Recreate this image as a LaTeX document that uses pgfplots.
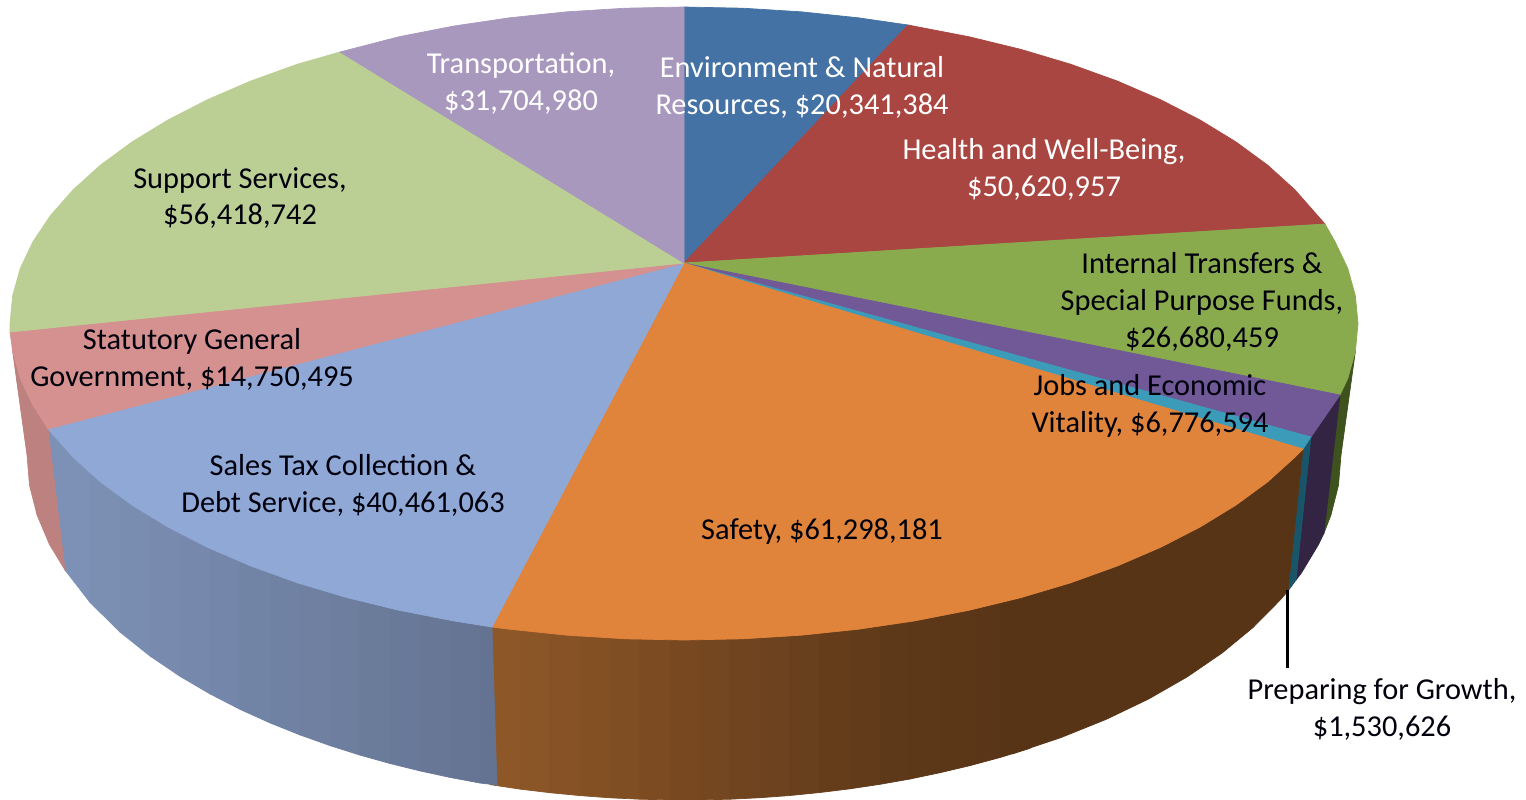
\documentclass[border=0pt]{standalone}
\usepackage{pgfplots}
\usepackage{fontspec}
\setmainfont{Carlito}
\pgfplotsset{compat=1.18}
\tikzset{
    lab/.style={font=\fontsize{8.64}{10.5}\selectfont,align=center,inner sep=0pt,text=black!95!blue},
    wlab/.style={lab,text=white},
}

% one slice or side piece, colour in RGB, outline in pixels
\newcommand{\piece}[4]{\addplot[fill={rgb,255:red,#1;green,#2;blue,#3},draw={rgb,255:red,#1;green,#2;blue,#3},line width=0.2pt,mark=none,forget plot] coordinates {#4};}

\begin{document}
\begin{tikzpicture}
\path[use as bounding box] (0,0) rectangle (15.26,7.99);
\begin{axis}[
    anchor=south west,
    at={(0,0)},
    scale only axis,
    width=15.26cm,
    height=7.99cm,
    xmin=0, xmax=1526,
    ymin=0, ymax=799,
    y dir=reverse,
    hide axis,
]
% --- sides ---
% Internal Transfers
\piece{62}{82}{30}{(1355.4,351.1)(1347.8,378.5)(1340,395)(1324,533)(1331,514.9)(1338.5,485.1)(1341,455)(1355.4,351.1)}
% Jobs
\piece{50}{36}{66}{(1340,395)(1311,437)(1296,580)(1301.4,573)(1318.6,544.3)(1324,533)(1340,395)}
% Preparing
\piece{25}{85}{105}{(1311,437)(1303,449)(1288,591)(1296,580)(1311,437)}
% Safety, dark part on the right
\piece{88}{52}{22}{(1303,449)(1294.8,457.3)(1267.7,481.8)(1236.1,505)(1200.3,526.9)(1160.6,547.3)(1117.2,566)(1070.6,582.8)(1021,597.6)(1012.5,753.8)(1060.9,737.6)(1106.3,719.3)(1148.6,699)(1187.3,676.8)(1222.2,652.9)(1253,627.5)(1279.4,600.8)(1288,591)(1303,449)}
% Safety, vertical stripes; their tops are hidden under the top face
\piece{142}{87}{40}{(490,590)(520,590)(520,789.1)(490,784.6)(490,590)}
\piece{138}{85}{39}{(520,590)(550,590)(550,792.7)(520,789.1)(520,590)}
\piece{135}{82}{38}{(550,590)(580,590)(580,795.6)(550,792.7)(550,590)}
\piece{131}{80}{36}{(580,590)(610,590)(610,797.8)(580,795.6)(580,590)}
\piece{127}{78}{35}{(610,590)(640,590)(640,799.2)(610,797.8)(610,590)}
\piece{124}{75}{34}{(640,590)(670,590)(670,799.9)(640,799.2)(640,590)}
\piece{120}{73}{33}{(670,590)(700,590)(700,799.9)(670,799.9)(670,590)}
\piece{116}{71}{32}{(700,590)(730,590)(730,799.2)(700,799.9)(700,590)}
\piece{112}{68}{31}{(730,590)(760,590)(760,797.7)(730,799.2)(730,590)}
\piece{109}{66}{30}{(760,590)(790,590)(790,795.5)(760,797.7)(760,590)}
\piece{105}{64}{29}{(790,590)(820,590)(820,792.5)(790,795.5)(790,590)}
\piece{101}{61}{27}{(820,590)(850,590)(850,788.8)(820,792.5)(820,590)}
\piece{98}{59}{26}{(850,590)(880,590)(880,784.3)(850,788.8)(850,590)}
\piece{94}{57}{25}{(880,590)(910,590)(910,779)(880,784.3)(880,590)}
\piece{92}{55}{24}{(910,590)(940,590)(940,772.7)(910,779)(910,590)}
\piece{91}{54}{23}{(940,590)(970,590)(970,765.6)(940,772.7)(940,590)}
\piece{90}{53}{23}{(970,590)(1000,590)(1000,757.5)(970,765.6)(970,590)}
\piece{88}{52}{22}{(1000,590)(1030,590)(1030,748.3)(1000,757.5)(1000,590)}
% Sales Tax, vertical stripes
\piece{125}{145}{182}{(46,425)(90,425)(90,602.4)(65,570)(50,480)(46,425)}
\piece{123}{143}{179}{(90,435)(120,435)(120,632)(90,602.4)(90,435)}
\piece{121}{141}{177}{(120,435)(150,435)(150,656)(120,632)(120,435)}
\piece{120}{139}{174}{(150,435)(180,435)(180,676.3)(150,656)(150,435)}
\piece{118}{136}{171}{(180,435)(210,435)(210,693.9)(180,676.3)(180,435)}
\piece{116}{134}{169}{(210,435)(240,435)(240,709.3)(210,693.9)(210,435)}
\piece{114}{132}{166}{(240,435)(270,435)(270,722.9)(240,709.3)(240,435)}
\piece{112}{130}{163}{(270,435)(300,435)(300,734.9)(270,722.9)(270,435)}
\piece{111}{128}{161}{(300,435)(330,435)(330,745.6)(300,734.9)(300,435)}
\piece{109}{126}{158}{(330,435)(360,435)(360,755.1)(330,745.6)(330,435)}
\piece{107}{124}{155}{(360,435)(390,435)(390,763.5)(360,755.1)(360,435)}
\piece{105}{121}{153}{(390,435)(420,435)(420,770.9)(390,763.5)(390,435)}
\piece{104}{119}{150}{(420,435)(450,435)(450,777.4)(420,770.9)(420,435)}
\piece{102}{117}{147}{(450,435)(480,435)(480,783)(450,777.4)(450,435)}
\piece{100}{115}{145}{(480,435)(492,435)(492,627)(497,785)(480,783)(480,435)}
% Statutory
\piece{189}{129}{127}{(12.6,351.1)(20.2,378.5)(33,405.4)(48,429)(65,570)(49.4,544.3)(37,514.9)(29.5,485.1)(27,455)(12.6,351.1)}

% --- top ---
% Environment
\piece{68}{114}{165}{(684,263)(684,7)(742.8,8.2)(801,11.8)(858.4,17.8)(908,25)(684,263)}
% Health
\piece{170}{70}{65}{(684,263)(908,25)(968.8,36.7)(1021,49.4)(1070.6,64.2)(1117.2,81)(1160.6,99.7)(1200.3,120.1)(1236.1,142)(1267.7,165.2)(1294.8,189.7)(1325,224)(684,263)}
% Internal Transfers
\piece{138}{170}{78}{(684,263)(1325,224)(1335,241.6)(1347.8,268.5)(1355.4,295.9)(1358,323.5)(1355.4,351.1)(1347.8,378.5)(1340,395)(684,263)}
% Jobs
\piece{113}{88}{150}{(684,263)(1340,395)(1311,437)(684,263)}
% Preparing
\piece{60}{155}{185}{(684,263)(1311,437)(1303,449)(684,263)}
% Safety
\piece{224}{132}{60}{(684,263)(1303,449)(1294.8,457.3)(1267.7,481.8)(1236.1,505)(1200.3,526.9)(1160.6,547.3)(1117.2,566)(1070.6,582.8)(1021,597.6)(968.8,610.3)(914.5,620.9)(858.4,629.2)(801,635.2)(742.8,638.8)(684,640)(625.2,638.8)(567,635.2)(509.6,629.2)(492,627)(684,263)}
% Sales Tax
\piece{143}{168}{213}{(684,263)(492,627)(453.5,620.9)(399.2,610.3)(347,597.6)(297.4,582.8)(250.8,566)(207.4,547.3)(167.7,526.9)(131.9,505)(100.3,481.8)(73.2,457.3)(48,429)(684,263)}
% Statutory
\piece{213}{145}{143}{(684,263)(48,429)(33,405.4)(20.2,378.5)(12.6,351.1)(10,332)(684,263)}
% Support
\piece{187}{207}{148}{(684,263)(10,332)(10,323.5)(12.6,295.9)(20.2,268.5)(33,241.6)(50.6,215.3)(73.2,189.7)(100.3,165.2)(131.9,142)(167.7,120.1)(207.4,99.7)(250.8,81)(297.4,64.2)(340,52)(684,263)}
% Transportation
\piece{168}{152}{190}{(684,263)(340,52)(399.2,36.7)(453.5,26.1)(509.6,17.8)(567,11.8)(625.2,8.2)(684,7)(684,263)}

% leader line of the smallest slice
\addplot[black,line width=0.85pt,mark=none,forget plot] coordinates {(1287,590)(1287,668)};

\node[wlab] at (axis cs:521,83) {Transportation,\\\$31,704,980};
\node[wlab] at (axis cs:802,87) {Environment \& Natural\\Resources, \$20,341,384};
\node[wlab] at (axis cs:1044,169) {Health and Well-Being,\\\$50,620,957};
\node[lab] at (axis cs:1202,302) {Internal Transfers \&\\Special Purpose Funds,\\\$26,680,459};
\node[lab] at (axis cs:1150,406) {Jobs and Economic\\Vitality, \$6,776,594};
\node[lab] at (axis cs:822,532) {Safety, \$61,298,181};
\node[lab] at (axis cs:343,485) {Sales Tax Collection \&\\Debt Service, \$40,461,063};
\node[lab] at (axis cs:192,359) {Statutory General\\Government, \$14,750,495};
\node[lab] at (axis cs:240,198) {Support Services,\\\$56,418,742};
\node[lab] at (axis cs:1382,709) {Preparing for Growth,\\\$1,530,626};
\end{axis}
\end{tikzpicture}
\end{document}
